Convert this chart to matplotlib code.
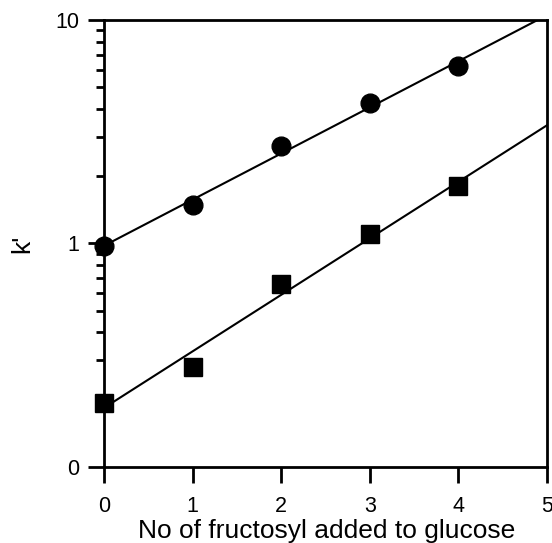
import matplotlib.pyplot as plt
import numpy as np
from matplotlib.ticker import FixedLocator, LogLocator, NullFormatter

# fructosyl units added to glucose
n_fructosyl = [0, 1, 2, 3, 4]
# k' values (log scale)
k_circle = [0.97, 1.49, 2.72, 4.23, 6.2]
k_square = [0.194, 0.28, 0.66, 1.10, 1.80]

y_ticks = [0.1, 1, 10]
y_ticklabels = ['0', '1', '10']
x_ticks = [0, 1, 2, 3, 4, 5]

plt.rcParams['font.family'] = ['Liberation Sans', 'DejaVu Sans']

fig = plt.figure(figsize=(5.52, 5.43), dpi=100)
ax = fig.add_axes([0.1884, 0.14, 0.8026, 0.8232])

# regression lines on log k'
xfit = np.array([0, 5])
for vals in (k_circle, k_square):
    slope, icpt = np.polyfit(n_fructosyl, np.log10(vals), 1)
    ax.plot(xfit, 10 ** (icpt + slope * xfit), color='black', lw=1.5, zorder=2)

ax.plot(n_fructosyl, k_circle, 'o', color='black', ms=13.5, clip_on=False, zorder=3)
ax.plot(n_fructosyl, k_square, 's', color='black', ms=13, clip_on=False, zorder=3)

ax.set_yscale('log')
ax.set_xlim(0, 5)
ax.set_ylim(0.1, 10)

ax.yaxis.set_major_locator(FixedLocator(y_ticks))
ax.set_yticklabels(y_ticklabels)
ax.yaxis.set_minor_locator(LogLocator(base=10, subs=np.arange(2, 10)))
ax.yaxis.set_minor_formatter(NullFormatter())
ax.set_xticks(x_ticks)

for s in ax.spines.values():
    s.set_linewidth(2)

ax.tick_params(axis='both', which='major', direction='out', length=11.5, width=2,
               labelsize=15.5, pad=6)
ax.tick_params(axis='x', which='major', pad=9.5)
ax.tick_params(axis='y', which='minor', direction='out', length=5.5, width=2)
ax.tick_params(top=False, right=False, which='both')

ax.set_xlabel('No of fructosyl added to glucose', fontsize=19)
ax.xaxis.set_label_coords(0.503, -0.117)
ax.set_ylabel("k'", fontsize=19)
ax.yaxis.set_label_coords(-0.185, 0.5)
ax.yaxis.label.set_va('center')

fig.savefig('out.png', dpi=100)
